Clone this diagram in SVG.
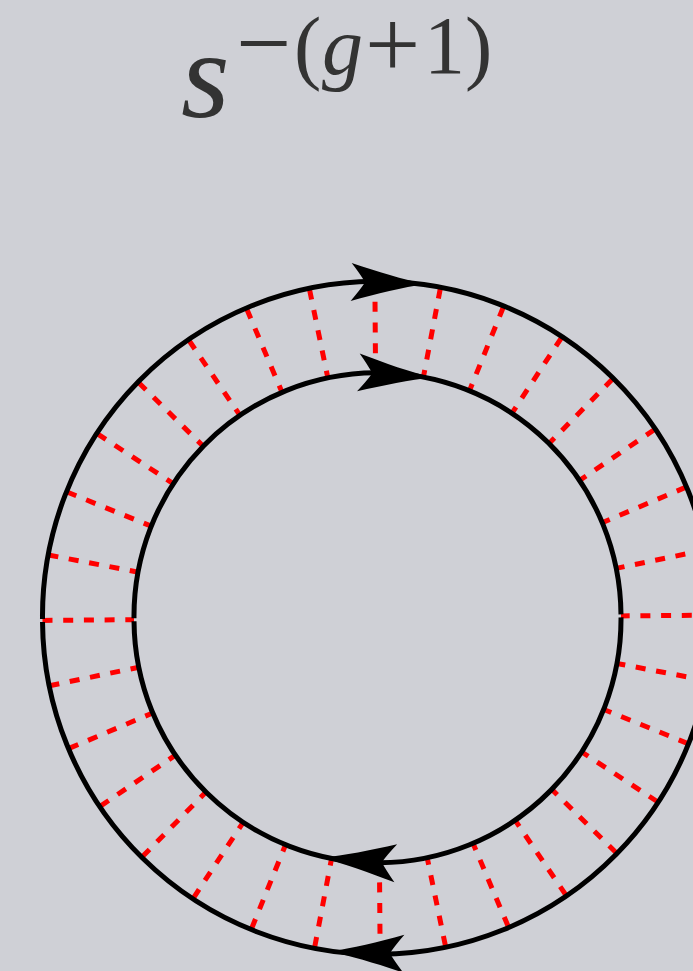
<svg xmlns="http://www.w3.org/2000/svg" xmlns:xlink="http://www.w3.org/1999/xlink" width="693" height="971" viewBox="0 0 693 971">
<defs>
<style>
.bg{fill:#cfd0d6}
.circ{fill:none;stroke:#000;stroke-width:5}
.ray{stroke:#f00;stroke-width:5;stroke-dasharray:10 10.7;fill:none}
.arr{fill:#000}
.t{fill:#333;font-family:"Liberation Serif","Times New Roman","DejaVu Serif",serif}
.it{font-style:italic}
</style>
<line id="ray" class="ray" x1="42.5" y1="617.8" x2="134" y2="617.8"/>
<line id="rayShort" class="ray" x1="61.5" y1="617.8" x2="113" y2="617.8"/>
<path id="ah" d="M 38 0 C 16 -4 -10 -11 -36 -19 Q -27 -8 -22 0 Q -27 8 -36 19 C -10 11 16 4 38 0 Z"/>
</defs>
<rect class="bg" x="0" y="0" width="693" height="971"/>

<g id="label">
<text class="t"><tspan class="it" x="181" y="116.5" font-size="125">s</tspan><tspan x="236" y="75.5" font-size="98">−</tspan><tspan x="294" y="73.5" font-size="82">(</tspan><tspan class="it" x="322" y="73.5" font-size="82">g</tspan><tspan x="365" y="77" font-size="98">+</tspan><tspan x="424" y="73" font-size="82">1</tspan><tspan x="465" y="73.5" font-size="82">)</tspan></text>
</g>

<g id="connectors" transform="rotate(-0.45 377.5 617.8)">
<use xlink:href="#ray" transform="rotate(0 377.5 617.8)"/>
<use xlink:href="#ray" transform="rotate(11.25 377.5 617.8)"/>
<use xlink:href="#ray" transform="rotate(22.5 377.5 617.8)"/>
<use xlink:href="#ray" transform="rotate(33.75 377.5 617.8)"/>
<use xlink:href="#ray" transform="rotate(45 377.5 617.8)"/>
<use xlink:href="#ray" transform="rotate(56.25 377.5 617.8)"/>
<use xlink:href="#ray" transform="rotate(67.5 377.5 617.8)"/>
<use xlink:href="#ray" transform="rotate(78.75 377.5 617.8)"/>
<use xlink:href="#rayShort" transform="rotate(90 377.5 617.8)"/>
<use xlink:href="#ray" transform="rotate(101.25 377.5 617.8)"/>
<use xlink:href="#ray" transform="rotate(112.5 377.5 617.8)"/>
<use xlink:href="#ray" transform="rotate(123.75 377.5 617.8)"/>
<use xlink:href="#ray" transform="rotate(135 377.5 617.8)"/>
<use xlink:href="#ray" transform="rotate(146.25 377.5 617.8)"/>
<use xlink:href="#ray" transform="rotate(157.5 377.5 617.8)"/>
<use xlink:href="#ray" transform="rotate(168.75 377.5 617.8)"/>
<use xlink:href="#ray" transform="rotate(180 377.5 617.8)"/>
<use xlink:href="#ray" transform="rotate(191.25 377.5 617.8)"/>
<use xlink:href="#ray" transform="rotate(202.5 377.5 617.8)"/>
<use xlink:href="#ray" transform="rotate(213.75 377.5 617.8)"/>
<use xlink:href="#ray" transform="rotate(225 377.5 617.8)"/>
<use xlink:href="#ray" transform="rotate(236.25 377.5 617.8)"/>
<use xlink:href="#ray" transform="rotate(247.5 377.5 617.8)"/>
<use xlink:href="#ray" transform="rotate(258.75 377.5 617.8)"/>
<use xlink:href="#rayShort" transform="rotate(270 377.5 617.8)"/>
<use xlink:href="#ray" transform="rotate(281.25 377.5 617.8)"/>
<use xlink:href="#ray" transform="rotate(292.5 377.5 617.8)"/>
<use xlink:href="#ray" transform="rotate(303.75 377.5 617.8)"/>
<use xlink:href="#ray" transform="rotate(315 377.5 617.8)"/>
<use xlink:href="#ray" transform="rotate(326.25 377.5 617.8)"/>
<use xlink:href="#ray" transform="rotate(337.5 377.5 617.8)"/>
<use xlink:href="#ray" transform="rotate(348.75 377.5 617.8)"/>
</g>

<g id="outer-circle" transform="rotate(-0.45 377.5 617.8)">
<path class="circ" d="M 42.5 616.3 A 335 335 0 0 1 712.5 616.3"/>
<path class="circ" d="M 712.5 619.3 A 335 335 0 0 1 42.5 619.3"/>
<use xlink:href="#ah" class="arr" transform="translate(377.5 617.8) rotate(2.1) translate(0 -335)"/>
<use xlink:href="#ah" class="arr" transform="translate(377.5 617.8) rotate(182.1) translate(0 -335)"/>
</g>

<g id="inner-circle" transform="rotate(-0.45 377.5 617.8)">
<path class="circ" d="M 134 616.3 A 243.5 243.5 0 0 1 621 616.3"/>
<path class="circ" d="M 621 619.3 A 243.5 243.5 0 0 1 134 619.3"/>
<use xlink:href="#ah" class="arr" transform="translate(377.5 617.8) rotate(4.4) translate(0 -243.5)"/>
<use xlink:href="#ah" class="arr" transform="translate(377.5 617.8) rotate(184.6) translate(0 -243.5)"/>
</g>
</svg>
